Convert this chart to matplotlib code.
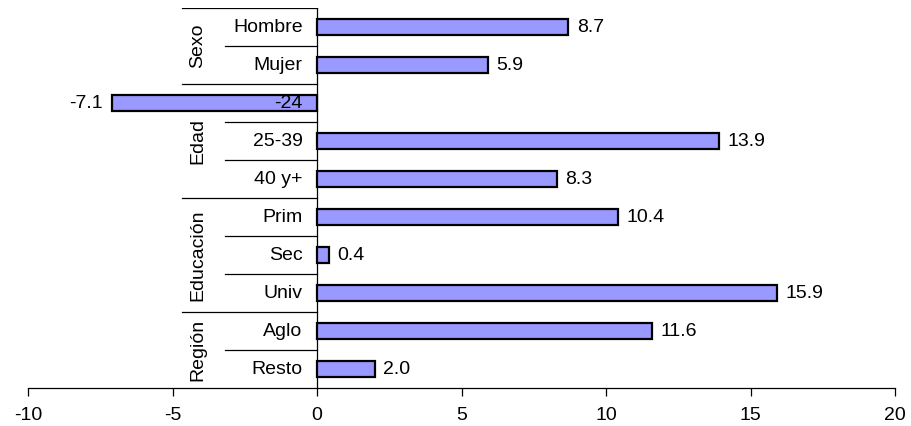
import matplotlib
matplotlib.use("Agg")
import matplotlib.pyplot as plt

# data
categories = ["Hombre", "Mujer", "-24", "25-39", "40 y+", "Prim", "Sec", "Univ", "Aglo", "Resto"]
values = [8.7, 5.9, -7.1, 13.9, 8.3, 10.4, 0.4, 15.9, 11.6, 2.0]
groups = ["Sexo", "Edad", "Educación", "Región"]
group_sizes = [2, 3, 3, 2]

plt.rcParams["font.family"] = ["Liberation Sans", "DejaVu Sans"]
plt.rcParams["axes.unicode_minus"] = False

fig = plt.figure(figsize=(9.11, 4.26), dpi=100)
ax = fig.add_axes([28 / 911, 38 / 426, 867 / 911, 380 / 426])

pos = list(range(len(categories)))
ax.barh(pos, values, height=0.42, color="#9999FF", edgecolor="black", linewidth=1.6, zorder=3)

ax.set_xlim(-10, 20)
ax.set_ylim(len(categories) - 0.5, -0.5)

fs = 14

# value labels
for y, v in zip(pos, values):
    if v >= 0:
        ax.text(v + 0.3, y, f"{v:.1f}", va="center", ha="left", fontsize=fs, zorder=4)
    else:
        ax.text(v - 0.3, y, f"{v:.1f}", va="center", ha="right", fontsize=fs, zorder=4)

# category labels (left of zero line)
for y, c in zip(pos, categories):
    ax.text(-0.5, y, c, va="center", ha="right", fontsize=fs, zorder=5)

# group labels and separator lines
start = 0
for g, n in zip(groups, group_sizes):
    ax.plot([-4.67, 0], [start - 0.5, start - 0.5], color="black", lw=0.9, zorder=2)
    for k in range(1, n):
        ax.plot([-3.18, 0], [start + k - 0.5, start + k - 0.5], color="black", lw=0.9, zorder=2)
    ax.text(-4.12, start + (n - 1) / 2, g, rotation=90, va="center", ha="center", fontsize=fs)
    start += n

ax.axvline(0, color="black", lw=0.9, zorder=2)

for s in ["top", "right", "left"]:
    ax.spines[s].set_visible(False)
ax.spines["bottom"].set_linewidth(0.9)
ax.set_yticks([])
ax.set_xticks(range(-10, 21, 5))
ax.tick_params(axis="x", direction="out", length=6, width=0.9, labelsize=fs, pad=8)

fig.savefig("out.png", dpi=100)
